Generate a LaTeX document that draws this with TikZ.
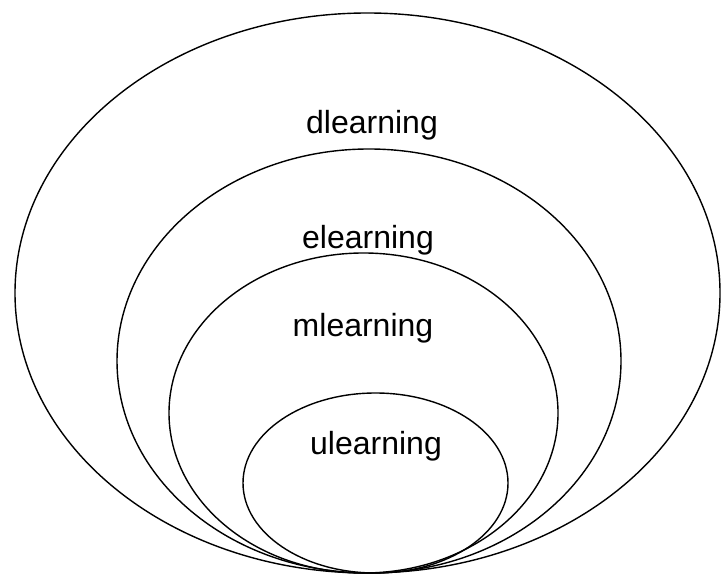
\documentclass[tikz,border=0pt]{standalone}
\usepackage{fontspec}
\setmainfont{Liberation Sans}
\usetikzlibrary{positioning}
\tikzset{
  every picture/.append style={line width=0.7pt},
  ring/.style={draw=black},
  lbl/.style={font=\fontsize{16}{19}\selectfont, inner sep=0pt}
}
\begin{document}
\begin{tikzpicture}[x=0.5pt, y=-0.5pt]
\useasboundingbox (0,0) rectangle (721,576);

% nested rings, all touching at the bottom
\draw[ring] (367.5,293) ellipse [x radius=352.5, y radius=280];
\draw[ring] (369,361) ellipse [x radius=252, y radius=212];
\draw[ring] (363.5,413) ellipse [x radius=194.5, y radius=160];
\draw[ring] (375.5,483) ellipse [x radius=132.5, y radius=90];

% labels
\node[lbl] (dl) at (372,125) {dlearning};
\node[lbl] (el) at (368,240) {elearning};
\node[lbl] (ml) at (363,328) {mlearning};
\node[lbl] (ul) at (376,446) {ulearning};

\end{tikzpicture}
\end{document}
